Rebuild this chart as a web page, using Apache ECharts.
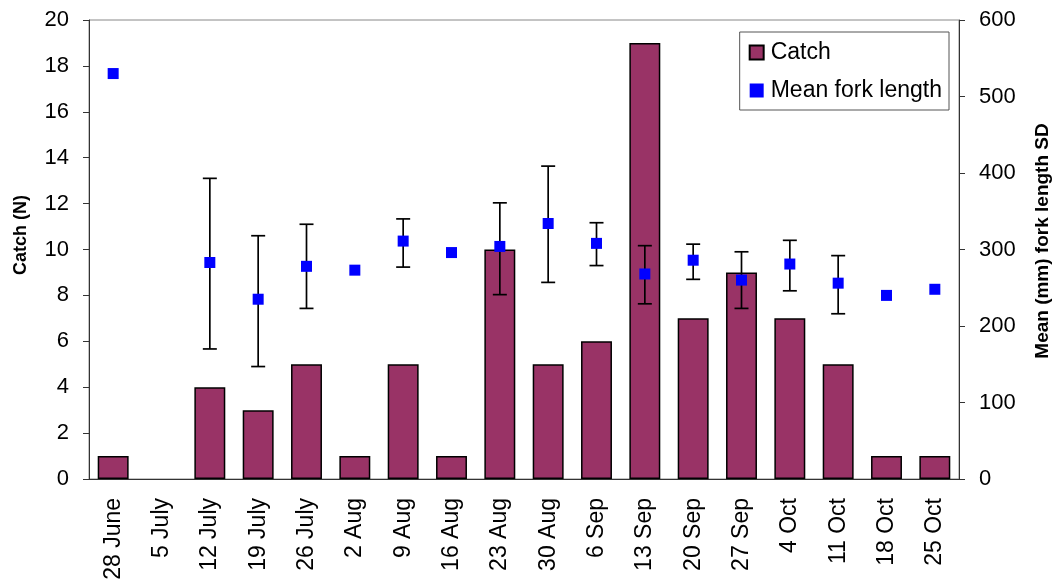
<!DOCTYPE html>
<html>
<head>
<meta charset="utf-8">
<script src="https://cdn.jsdelivr.net/npm/echarts@6/dist/echarts.min.js"></script>
<style>
  html, body { margin: 0; padding: 0; background: #fff; }
  #main { width: 1053px; height: 584px; }
</style>
</head>
<body>
<div id="main"></div>
<script>
// weekly sampling dates
var dates = ['28 June', '5 July', '12 July', '19 July', '26 July', '2 Aug', '9 Aug', '16 Aug', '23 Aug',
  '30 Aug', '6 Sep', '13 Sep', '20 Sep', '27 Sep', '4 Oct', '11 Oct', '18 Oct', '25 Oct']
var catchN = [1, 0, 4, 3, 5, 1, 5, 1, 10, 5, 6, 19, 7, 9, 7, 5, 1, 1]
// mean fork length (mm), '-' = no fish
var meanLen = [530, '-', 283, 235, 278, 273, 311, 296, 304, 334, 308, 268, 286, 260, 281, 256, 240, 248]
// mean - SD / mean + SD, null where no bar drawn
var sdLow = [null, null, 170, 147, 223, null, 277, null, 241, 257, 279, 229, 261, 223, 246, 216, null, null]
var sdHigh = [null, null, 393, 318, 333, null, 340, null, 361, 409, 335, 305, 307, 297, 312, 292, null, null]

var errData = []
for (var i = 0; i < dates.length; i++) {
  if (sdLow[i] !== null) errData.push([i, sdLow[i], sdHigh[i]])
}
// no outline for empty weeks
var barData = catchN.map(function (v) {
  return v === 0 ? { value: v, itemStyle: { borderWidth: 0 } } : v
})

var font = 'Liberation Sans, Arial, sans-serif'
var myChart = echarts.init(document.getElementById('main'))

var option = {
  backgroundColor: '#fff',
  animation: false,
  grid: {
    left: 89, right: 94, top: 20, bottom: 105,
    outerBoundsMode: 'none',
    containLabel: false,
    show: true, borderColor: '#888', borderWidth: 1
  },
  // axis titles (sit a bit above the axis middle, as in the original)
  graphic: [
    {
      type: 'text', x: 21, y: 235, rotation: Math.PI / 2,
      style: { text: 'Catch (N)', font: 'bold 18px Liberation Sans, Arial, sans-serif', fill: '#000', align: 'center', verticalAlign: 'middle' }
    },
    {
      type: 'text', x: 1043, y: 241, rotation: Math.PI / 2,
      style: { text: 'Mean (mm) fork length SD', font: 'bold 19px Liberation Sans, Arial, sans-serif', fill: '#000', align: 'center', verticalAlign: 'middle' }
    }
  ],
  legend: {
    data: [
      { name: 'Catch', icon: 'rect' },
      { name: 'Mean fork length', icon: 'rect' }
    ],
    orient: 'vertical',
    right: 104,
    top: 32,
    padding: [9, 7, 8, 9],
    itemGap: 15,
    itemWidth: 14,
    itemHeight: 14,
    borderColor: '#555',
    borderWidth: 1,
    textStyle: { fontFamily: font, fontSize: 23, color: '#000', padding: [0, 0, 0, 2] }
  },
  xAxis: {
    type: 'category',
    data: dates,
    axisLine: { lineStyle: { color: '#333', width: 1 } },
    axisTick: { length: 6, lineStyle: { color: '#333' } },
    axisLabel: { rotate: 90, fontFamily: font, fontSize: 23, color: '#000', margin: 19 }
  },
  yAxis: [
    {
      type: 'value',
      min: 0, max: 20, interval: 2,
      axisLine: { show: true, lineStyle: { color: '#333' } },
      axisTick: { show: true, length: 6, lineStyle: { color: '#333' } },
      splitLine: { show: false },
      axisLabel: { fontFamily: font, fontSize: 22, color: '#000', margin: 20 }
    },
    {
      type: 'value',
      min: 0, max: 600, interval: 100,
      axisLine: { show: true, lineStyle: { color: '#333' } },
      axisTick: { show: true, length: 6, lineStyle: { color: '#333' } },
      splitLine: { show: false },
      axisLabel: { fontFamily: font, fontSize: 22, color: '#000', margin: 20 }
    }
  ],
  series: [
    {
      name: 'Catch',
      type: 'bar',
      data: barData,
      barWidth: '64%',
      itemStyle: { color: '#993366', borderColor: '#000', borderWidth: 1.5 }
    },
    {
      name: 'SD',
      type: 'custom',
      yAxisIndex: 1,
      z: 3,
      data: errData,
      renderItem: function (params, api) {
        var x = api.value(0)
        var lo = api.coord([x, api.value(1)])
        var hi = api.coord([x, api.value(2)])
        var half = 7
        var style = { stroke: '#000', lineWidth: 1.7 }
        return {
          type: 'group',
          children: [
            { type: 'line', shape: { x1: lo[0], y1: lo[1], x2: hi[0], y2: hi[1] }, style: style },
            { type: 'line', shape: { x1: lo[0] - half, y1: lo[1], x2: lo[0] + half, y2: lo[1] }, style: style },
            { type: 'line', shape: { x1: hi[0] - half, y1: hi[1], x2: hi[0] + half, y2: hi[1] }, style: style }
          ]
        }
      }
    },
    {
      name: 'Mean fork length',
      type: 'scatter',
      yAxisIndex: 1,
      z: 5,
      data: meanLen,
      symbol: 'rect',
      symbolSize: 11,
      itemStyle: { color: '#0000ff', opacity: 1 }
    }
  ]
}

myChart.setOption(option, true)
</script>
</body>
</html>
